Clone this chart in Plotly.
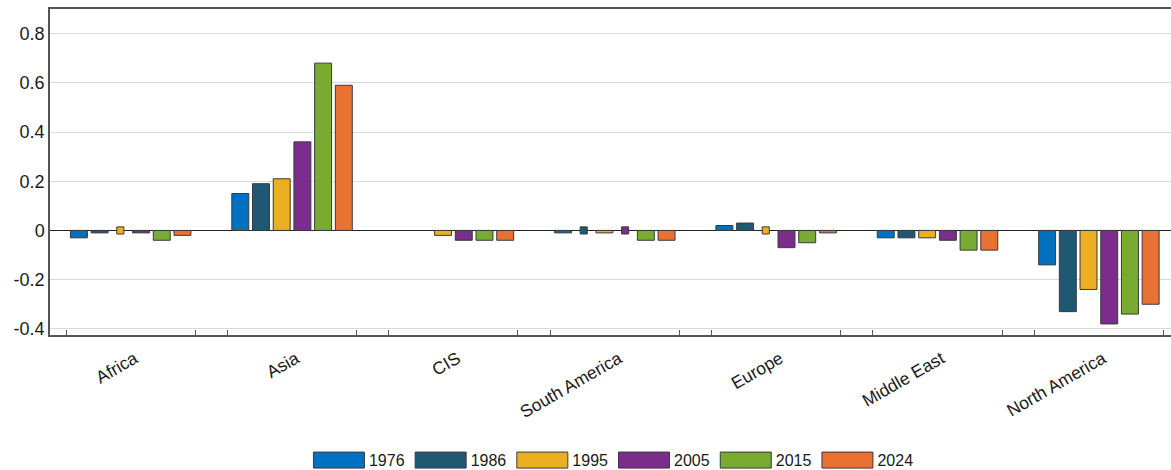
import plotly.graph_objects as go

regions = ["Africa", "Asia", "CIS", "South America", "Europe", "Middle East", "North America"]
years = ["1976", "1986", "1995", "2005", "2015", "2024"]

v1976 = [-0.03, 0.15, None, -0.01, 0.02, -0.03, -0.14]
v1986 = [-0.01, 0.19, None, 0.0, 0.03, -0.03, -0.33]
v1995 = [0.0, 0.21, -0.02, -0.01, 0.0, -0.03, -0.24]
v2005 = [-0.01, 0.36, -0.04, 0.0, -0.07, -0.04, -0.38]
v2015 = [-0.04, 0.68, -0.04, -0.04, -0.05, -0.08, -0.34]
v2024 = [-0.02, 0.59, -0.04, -0.04, -0.01, -0.08, -0.30]
series = [v1976, v1986, v1995, v2005, v2015, v2024]

colors = ["#0070C0", "#1F5873", "#EBB022", "#7B2D8B", "#78AB30", "#E97132"]

ytick_vals = [-0.4, -0.2, 0, 0.2, 0.4, 0.6, 0.8]
ytick_text = ["-0.4", "-0.2", "0", "0.2", "0.4", "0.6", "0.8"]

FONT = "Liberation Sans, Arial, sans-serif"
NORMAL_W = 0.105
ZERO_W = 0.044
ZERO_H = 0.029

fig = go.Figure()
xs = list(range(len(regions)))
for name, vals, col in zip(years, series, colors):
    ys, bases, widths = [], [], []
    for v in vals:
        if v is not None and v == 0:
            ys.append(ZERO_H)
            bases.append(-ZERO_H / 2)
            widths.append(ZERO_W)
        else:
            ys.append(v)
            bases.append(0)
            widths.append(NORMAL_W)
    fig.add_trace(go.Bar(
        x=xs, y=ys, base=bases, width=widths, name=name,
        marker=dict(color=col, line=dict(color="#3a3a3a", width=1)),
    ))

fig.update_layout(
    width=1171, height=470,
    barmode="group", bargap=0.23, bargroupgap=0.2,
    plot_bgcolor="white", paper_bgcolor="white",
    margin=dict(l=50, r=0, t=9, b=135, autoexpand=False),
    font=dict(family=FONT, size=16, color="#1a1a1a"),
    legend=dict(orientation="h", x=0.231, xanchor="left", y=-0.384, yanchor="middle",
                font=dict(size=16), entrywidth=36.7, itemwidth=50,
                traceorder="normal"),
    showlegend=True,
)
fig.update_xaxes(
    range=[-0.5, 6.447],
    automargin=False,
    tickmode="array", tickvals=xs, ticktext=regions,
    tickangle=-30, ticks="", ticklen=0,
    tickfont=dict(size=17.5, family=FONT),
    ticklabelstandoff=5, ticklabelshift=4,
    showline=True, linecolor="#555555", linewidth=1.5, mirror=True,
    showgrid=False, zeroline=False,
    minor=dict(tickmode="array",
               tickvals=[i + d for i in xs for d in (-0.4, 0.4)],
               ticks="inside", ticklen=5, tickcolor="#555555", tickwidth=1.2,
               showgrid=False),
)
fig.update_yaxes(
    range=[-0.425, 0.9],
    automargin=False,
    tickmode="array", tickvals=ytick_vals, ticktext=ytick_text,
    tickfont=dict(size=18, family=FONT),
    showline=True, linecolor="#555555", linewidth=1.5, mirror=False,
    showgrid=True, gridcolor="#d9d9d9", gridwidth=1.2,
    zeroline=True, zerolinecolor="#222222", zerolinewidth=1.2,
    ticks="",
)

post = """
document.body.style.margin = '0';
document.body.style.overflow = 'hidden';
document.querySelectorAll('.legend .legendpoints path').forEach(function(p){
    p.setAttribute('d', 'M25.5,8H-25.5V-8H25.5Z');
});
"""

fig.write_html("out.html", post_script=post, config={"displayModeBar": False})
